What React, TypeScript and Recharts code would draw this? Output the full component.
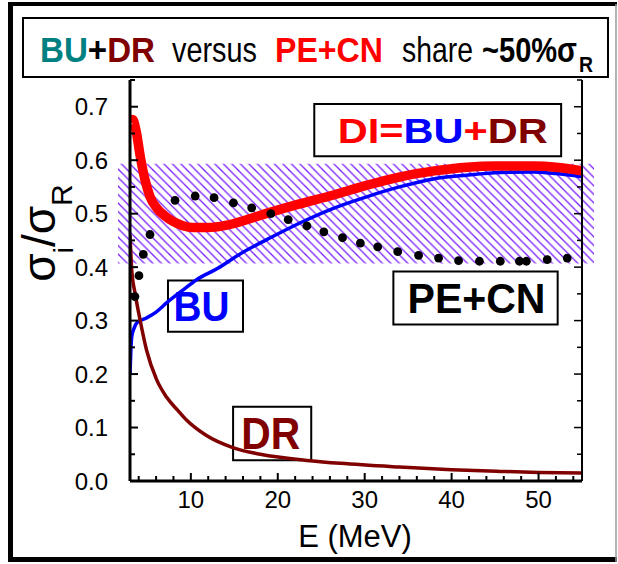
import React from "react";
import {
  ComposedChart,
  Line,
  Scatter,
  XAxis,
  YAxis,
  ReferenceArea,
} from "recharts";

// DI = BU + DR (thick red)
const diE = [3.0, 3.3, 3.7, 4.2, 4.7, 5.3, 6.1, 7, 8, 9, 10.3, 12, 14, 16.5, 18.8, 22, 26.4, 30, 34.1, 38, 41.8, 45, 49.4, 52, 55];
const diV = [0.672, 0.676, 0.655, 0.605, 0.565, 0.532, 0.51, 0.496, 0.485, 0.478, 0.474, 0.474, 0.478, 0.489, 0.501, 0.516, 0.535, 0.552, 0.569, 0.58, 0.587, 0.589, 0.589, 0.587, 0.58];

// BU (blue)
const buE = [3.0, 3.1, 3.2, 3.5, 3.8, 4.9, 6, 7.2, 9, 10.7, 13, 16, 18.8, 22.6, 26.4, 30.3, 34, 37.9, 41.7, 45.6, 49.4, 52, 55];
const buV = [0.2, 0.245, 0.27, 0.287, 0.296, 0.305, 0.316, 0.333, 0.356, 0.377, 0.397, 0.428, 0.452, 0.483, 0.51, 0.532, 0.55, 0.565, 0.572, 0.577, 0.578, 0.575, 0.569];

// DR (dark red)
const drE = [3.0, 3.2, 3.6, 4.15, 4.9, 6.05, 7.2, 8.5, 9.5, 11.8, 14.9, 18, 23.7, 27.2, 34, 40, 45.6, 50, 55];
const drV = [0.46, 0.395, 0.35, 0.302, 0.245, 0.19, 0.157, 0.132, 0.114, 0.085, 0.062, 0.05, 0.038, 0.033, 0.026, 0.021, 0.018, 0.016, 0.015];

// PE+CN (black dots)
const peE = [3.57, 4.03, 4.53, 5.3, 8.18, 10.5, 12.67, 14.9, 17.0, 19.2, 21.2, 23.35, 25.3, 27.45, 29.5, 31.5, 33.8, 36.2, 38.5, 40.8, 43.2, 45.6, 47.8, 48.6, 51, 53.3];
const peV = [0.345, 0.384, 0.424, 0.461, 0.525, 0.533, 0.53, 0.52, 0.511, 0.5, 0.489, 0.477, 0.466, 0.455, 0.445, 0.438, 0.429, 0.422, 0.417, 0.412, 0.411, 0.411, 0.411, 0.411, 0.414, 0.417];

const xTicks = [4, 6, 8, 10, 12, 14, 16, 18, 20, 22, 24, 26, 28, 30, 32, 34, 36, 38, 40, 42, 44, 46, 48, 50, 52, 54];
const yTicks = [0, 0.05, 0.1, 0.15, 0.2, 0.25, 0.3, 0.35, 0.4, 0.45, 0.5, 0.55, 0.6, 0.65, 0.7, 0.75];

const toRows = (xs: number[], ys: number[]) => xs.map((e, i) => ({ e, v: ys[i] }));
const diData = toRows(diE, diV);
const buData = toRows(buE, buV);
const drData = toRows(drE, drV);
const peData = toRows(peE, peV);

const FONT = "'Liberation Sans', Arial, Helvetica, sans-serif";
const isMajorY = (v: number) => Math.round(v * 100) % 10 === 0;

const BottomTick = (props: any) => {
  const { x, y, payload } = props;
  const axisY = y - 9;
  const major = payload.value % 10 === 0;
  return (
    <g>
      <line x1={x} x2={x} y1={axisY} y2={axisY - (major ? 8 : 5)} stroke="#000" strokeWidth={2} />
      {major && (
        <text x={x} y={axisY + 27} textAnchor="middle" fontSize={24} fontFamily={FONT} fill="#000">
          {payload.value}
        </text>
      )}
    </g>
  );
};

const LeftTick = (props: any) => {
  const { x, y, payload } = props;
  const axisX = x + 22;
  const major = isMajorY(payload.value);
  return (
    <g>
      <line x1={axisX} x2={axisX + (major ? 8 : 5)} y1={y} y2={y} stroke="#000" strokeWidth={2} />
      {major && payload.value < 0.75 && (
        <text x={x} y={y + 8.5} textAnchor="end" fontSize={24} fontFamily={FONT} fill="#000">
          {payload.value.toFixed(1)}
        </text>
      )}
    </g>
  );
};

const RightTick = (props: any) => {
  const { x, y, payload } = props;
  const major = isMajorY(payload.value);
  return <line x1={x} x2={x - (major ? 8 : 5)} y1={y} y2={y} stroke="#000" strokeWidth={1.5} />;
};

const boxLabel =
  (parts: [string, string][], size: number, len: number, dx = 0) =>
  (props: any) => {
    const { x, y, width, height } = props.viewBox;
    return (
      <text
        x={x + width / 2 + dx}
        y={y + height / 2 + size * 0.36}
        textAnchor="middle"
        fontSize={size}
        fontWeight="bold"
        fontFamily={FONT}
        textLength={len}
        lengthAdjust="spacingAndGlyphs"
      >
        {parts.map(([t, c], i) => (
          <tspan key={i} fill={c}>
            {t}
          </tspan>
        ))}
      </text>
    );
  };

const Dot = (p: any) => <circle cx={p.cx} cy={p.cy} r={4.4} fill="#000" />;

export default function App() {
  return (
    <div style={{ position: "absolute", left: 0, top: 0, width: 618, height: 564, background: "#fff" }}>
      <ComposedChart width={618} height={564} margin={{ top: 80, right: 0, bottom: 0, left: 0 }}>
        <defs>
          <pattern id="hatch" patternUnits="userSpaceOnUse" width={8.5} height={8.5}>
            <path d="M0,0 L8.5,8.5 M-2,6.5 L2,10.5 M6.5,-2 L10.5,2" stroke="#7a1cff" strokeWidth={1.3} />
          </pattern>
        </defs>
        <XAxis
          type="number"
          dataKey="e"
          domain={[3, 55]}
          allowDataOverflow
          ticks={xTicks}
          interval={0}
          height={83}
          tickSize={0}
          tickMargin={9}
          tickLine={false}
          tick={<BottomTick />}
          axisLine={{ stroke: "#000", strokeWidth: 3 }}
          yAxisId="l"
        />
        <YAxis
          yAxisId="l"
          type="number"
          domain={[0, 0.75]}
          allowDataOverflow
          ticks={yTicks}
          interval={0}
          width={130}
          tickSize={0}
          tickMargin={22}
          tickLine={false}
          tick={<LeftTick />}
          axisLine={{ stroke: "#000", strokeWidth: 3 }}
        />
        <YAxis
          yAxisId="r"
          orientation="right"
          type="number"
          domain={[0, 0.75]}
          allowDataOverflow
          ticks={yTicks}
          interval={0}
          width={36}
          tickSize={0}
          tickMargin={0}
          tickLine={false}
          tick={<RightTick />}
          axisLine={{ stroke: "#000", strokeWidth: 2 }}
        />
        <ReferenceArea
          yAxisId="l"
          x1={1.5}
          x2={56.5}
          y1={0.405}
          y2={0.595}
          ifOverflow="visible"
          fill="url(#hatch)"
          fillOpacity={1}
          stroke="#fff"
          strokeWidth={2}
        />
        <Scatter yAxisId="l" data={peData} dataKey="v" shape={<Dot />} isAnimationActive={false} />
        <Line yAxisId="l" data={buData} dataKey="v" type="monotone" stroke="#0000ff" strokeWidth={3.5} dot={false} isAnimationActive={false} />
        <Line yAxisId="l" data={drData} dataKey="v" type="monotone" stroke="#800000" strokeWidth={3.5} dot={false} isAnimationActive={false} />
        <Line yAxisId="l" data={diData} dataKey="v" type="monotone" stroke="#ff0000" strokeWidth={9.5} dot={false} isAnimationActive={false} />
        <ReferenceArea
          yAxisId="l"
          x1={24.2}
          x2={52.6}
          y1={0.6075}
          y2={0.705}
          ifOverflow="visible"
          fill="#fff"
          fillOpacity={1}
          stroke="#000"
          strokeWidth={2}
          label={{ content: boxLabel([["DI=", "#ff0000"], ["BU", "#0000ff"], ["+", "#ff0000"], ["DR", "#800000"]], 35, 210, 5) }}
        />
        <ReferenceArea
          yAxisId="l"
          x1={33.3}
          x2={52.2}
          y1={0.2925}
          y2={0.392}
          ifOverflow="visible"
          fill="#fff"
          fillOpacity={1}
          stroke="#000"
          strokeWidth={2}
          label={{ content: boxLabel([["PE+CN", "#000"]], 42, 138, 1) }}
        />
        <ReferenceArea
          yAxisId="l"
          x1={7.37}
          x2={16.0}
          y1={0.279}
          y2={0.375}
          ifOverflow="visible"
          fill="#fff"
          fillOpacity={1}
          stroke="#000"
          strokeWidth={2}
          label={{ content: boxLabel([["BU", "#0000ff"]], 42, 56, -4) }}
        />
        <ReferenceArea
          yAxisId="l"
          x1={14.86}
          x2={23.85}
          y1={0.039}
          y2={0.139}
          ifOverflow="visible"
          fill="#fff"
          fillOpacity={1}
          stroke="#000"
          strokeWidth={2}
          label={{ content: boxLabel([["DR", "#800000"]], 44, 59, -1.5) }}
        />
      </ComposedChart>

      <svg width={618} height={564} style={{ position: "absolute", left: 0, top: 0, pointerEvents: "none" }}>
        {/* outer frame */}
        <line x1={10.5} x2={10.5} y1={2} y2={562} stroke="#000" strokeWidth={5} />
        <line x1={8} x2={617} y1={4} y2={4} stroke="#000" strokeWidth={4} />
        <line x1={8} x2={617} y1={559.5} y2={559.5} stroke="#000" strokeWidth={5} />
        <line x1={616} x2={616} y1={4} y2={562} stroke="#999" strokeWidth={1.5} />

        {/* title box */}
        <rect x={23} y={18} width={585} height={59} fill="#fff" stroke="#000" strokeWidth={2} />
        <g fontFamily={FONT} fontSize={35}>
          <text x={40} y={62} fontWeight="bold" textLength={115} lengthAdjust="spacingAndGlyphs">
            <tspan fill="#008080">BU</tspan>
            <tspan fill="#000">+</tspan>
            <tspan fill="#800000">DR</tspan>
          </text>
          <text x={172} y={62} fill="#000" textLength={85} lengthAdjust="spacingAndGlyphs">
            versus
          </text>
          <text x={275} y={62} fill="#ff0000" fontWeight="bold" textLength={108} lengthAdjust="spacingAndGlyphs">
            PE+CN
          </text>
          <text x={402} y={62} fill="#000" textLength={71} lengthAdjust="spacingAndGlyphs">
            share
          </text>
          <text x={482} y={62} fill="#000" fontWeight="bold" textLength={95} lengthAdjust="spacingAndGlyphs">
            ~50%σ
          </text>
          <text x={579} y={72} fill="#000" fontWeight="bold" fontSize={22} textLength={14} lengthAdjust="spacingAndGlyphs">
            R
          </text>
        </g>

        {/* y axis title */}
        <g transform="translate(55,233) rotate(-90)">
          <text x={0} y={0} textAnchor="middle" fontFamily={FONT} fontSize={46} fill="#000">
            σ
            <tspan fontSize={28} dy={18}>i</tspan>
            <tspan dy={-18}>/σ</tspan>
            <tspan fontSize={30} dy={17}>R</tspan>
          </text>
        </g>

        {/* x axis title */}
        <text x={355} y={547} textAnchor="middle" fontFamily={FONT} fontSize={31} fill="#000">
          E (MeV)
        </text>
      </svg>
    </div>
  );
}
